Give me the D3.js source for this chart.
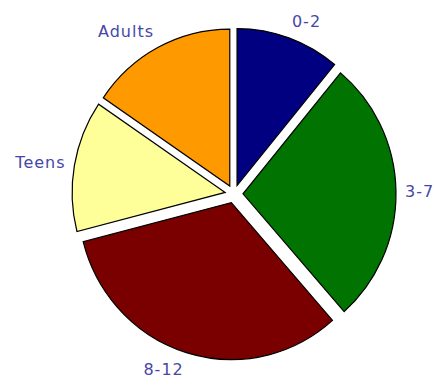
<html>

<head>
    <style>
        body {
            margin: 0;
            background: #FFFFFF;
        }
        .label {
            font-family: "DejaVu Sans", Verdana, sans-serif;
            font-size: 16px;
            letter-spacing: 1px;
            fill: #4646aa;
        }
    </style>
</head>

<body>
    <svg id="container" height="387" width="436">
        <g id="body" transform="translate(234,194)"></g>
    </svg>
</body>

<script src="https://cdn.jsdelivr.net/npm/d3@7"></script>
<script>
    // slices, clockwise from 12 o'clock
    let categories = ["0-2", "3-7", "8-12", "Teens", "Adults"]
    let values = [11, 27.5, 32.5, 13.5, 15.5]
    let colors = ["#000080", "#007300", "#7a0000", "#ffff99", "#ff9900"]

    let rx = 153
    let ry = 157
    let explode = 9
    let labelR = 171

    let body = d3.select("#body")

    let data = categories.map((c, i) => ({ name: c, value: values[i] }))

    let pie = d3.pie()
        .sort(null)
        .value(d => d.value)

    let arc = d3.arc()
        .innerRadius(0)
        .outerRadius(rx)

    let colorScale = d3.scaleOrdinal()
        .domain(categories)
        .range(colors)

    let arcs = pie(data)

    function mid(d) {
        return (d.startAngle + d.endAngle) / 2
    }

    // stretched a bit vertically like the original
    let pieG = body.append("g")
        .attr("transform", "scale(1," + (ry / rx) + ")")

    pieG.selectAll("path")
        .data(arcs)
        .enter()
        .append("path")
        .attr("d", arc)
        .attr("transform", d => {
            let a = mid(d)
            return "translate(" + (Math.sin(a) * explode) + "," + (-Math.cos(a) * explode * rx / ry) + ")"
        })
        .attr("fill", d => colorScale(d.data.name))
        .attr("stroke", "#000000")
        .attr("stroke-width", 1.2)
        .attr("vector-effect", "non-scaling-stroke")

    // labels outside the pie, text box pushed away from the edge
    body.selectAll("text")
        .data(arcs)
        .enter()
        .append("text")
        .attr("class", "label")
        .attr("dy", "0.35em")
        .attr("text-anchor", d => Math.sin(mid(d)) > 0 ? "start" : "end")
        .attr("x", d => Math.sin(mid(d)) * labelR)
        .attr("y", d => {
            let a = mid(d)
            return -Math.cos(a) * labelR * ry / rx - Math.cos(a) * 8
        })
        .text(d => d.data.name)
</script>

</html>
